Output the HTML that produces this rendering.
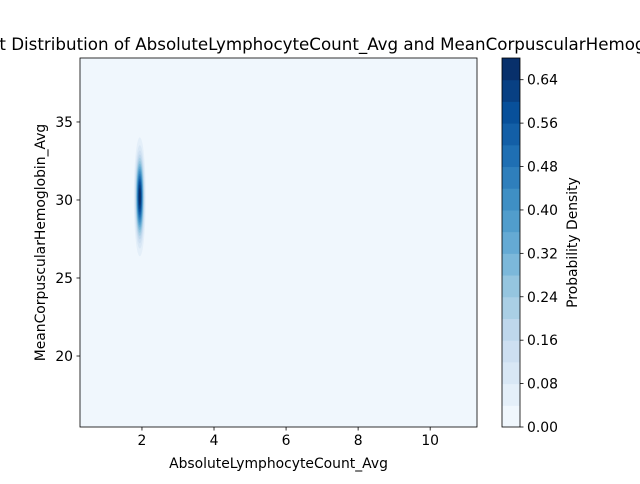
<!DOCTYPE html>
<html><head><meta charset="utf-8"><style>
body{margin:0;background:#fff;font-family:"DejaVu Sans","Liberation Sans",sans-serif;overflow:hidden}
svg text{font-family:"DejaVu Sans","Liberation Sans",sans-serif;font-size:13.9px;fill:#000}
</style></head><body>
<svg id="c" width="640" height="480">
</svg>
<script>
const levels=[0,0.04,0.08,0.12,0.16,0.20,0.24,0.28,0.32,0.36,0.40,0.44,0.48,0.52,0.56,0.60,0.64,0.68];
const center=[1.94,30.2];
const sigma=[0.07,1.6];
const peak=[0.68];
const xTicks=[2,4,6,8,10];
const yTicks=[20,25,30,35];
const cbTicks=[0,0.08,0.16,0.24,0.32,0.40,0.48,0.56,0.64];
const xDom=[0.28,11.3], yDom=[15.45,39.1];
const L=80,R=477,T=58,B=427;
const sx=v=>L+(v-xDom[0])/(xDom[1]-xDom[0])*(R-L);
const sy=v=>B-(v-yDom[0])/(yDom[1]-yDom[0])*(B-T);
const cbY=v=>B-v/0.68*(B-T);
const svg=document.getElementById('c');
const NS='http://www.w3.org/2000/svg';
function mk(t,a,p){const e=document.createElementNS(NS,t);for(const k in a)e.setAttribute(k,a[k]);(p||svg).appendChild(e);return e;}
const stops=[[247,251,255],[222,235,247],[198,219,239],[158,202,225],[107,174,214],[66,146,198],[33,113,181],[8,81,156],[8,48,107]];
function blues(t){const f=Math.min(1,t)*8,i=Math.min(7,Math.floor(f)),r=f-i,a=stops[i],b=stops[i+1];return `rgb(${a.map((v,k)=>Math.round(v+(b[k]-v)*r)).join(',')})`;}
const nb=levels.length-1;
const col=i=>blues(0.035+i/(nb-1)*0.965);
let e=mk('rect',{x:L,y:T,width:R-L,height:B-T,fill:col(0)});

for(let i=1;i<nb;i++){
  const lv=levels[i]; if(lv>=peak[0])break;
  const r=Math.sqrt(2*Math.log(peak[0]/lv));
  const cx=sx(center[0]),cy=sy(center[1]);
  const rx=sx(center[0]+r*sigma[0])-cx, ry=cy-sy(center[1]+r*sigma[1]);
  e=mk('ellipse',{cx:cx,cy:cy,rx:rx,ry:ry,fill:col(i)});
  
}
mk('rect',{x:L,y:T,width:R-L,height:B-T,fill:'none',stroke:'#000','stroke-width':0.8});
xTicks.forEach(v=>{const x=sx(v);mk('line',{x1:x,x2:x,y1:B,y2:B+3.5,stroke:'#000','stroke-width':0.8});
 e=mk('text',{x:x,y:B+18,'text-anchor':'middle'});e.textContent=v;});
yTicks.forEach(v=>{const y=sy(v);mk('line',{x1:L,x2:L-3.5,y1:y,y2:y,stroke:'#000','stroke-width':0.8});
 e=mk('text',{x:L-7,y:y+5,'text-anchor':'end'});e.textContent=v;});
e=mk('text',{x:(L+R)/2,y:468,'text-anchor':'middle'});e.textContent='AbsoluteLymphocyteCount_Avg';
e=mk('text',{x:45,y:(T+B)/2,'text-anchor':'middle',transform:`rotate(-90 45 ${(T+B)/2})`});e.textContent='MeanCorpuscularHemoglobin_Avg';
e=mk('text',{x:-31,y:50,'text-anchor':'start',style:'font-size:16.7px'});e.textContent='Joint Distribution of AbsoluteLymphocyteCount_Avg and MeanCorpuscularHemoglobin_Avg';
const CL=502,CR=520;
for(let i=0;i<nb;i++){const y1=cbY(levels[i+1]),y0=cbY(levels[i]);
 e=mk('rect',{x:CL,y:y1,width:CR-CL,height:y0-y1+0.5,fill:col(i)});}
mk('rect',{x:CL,y:T,width:CR-CL,height:B-T,fill:'none',stroke:'#000','stroke-width':0.8});
cbTicks.forEach(v=>{const y=cbY(v);mk('line',{x1:CR,x2:CR+3.5,y1:y,y2:y,stroke:'#000','stroke-width':0.8});
 e=mk('text',{x:CR+7,y:y+5});e.textContent=v.toFixed(2);});
e=mk('text',{x:577,y:(T+B)/2,'text-anchor':'middle',transform:`rotate(-90 577 ${(T+B)/2})`});e.textContent='Probability Density';
</script>
</body></html>
